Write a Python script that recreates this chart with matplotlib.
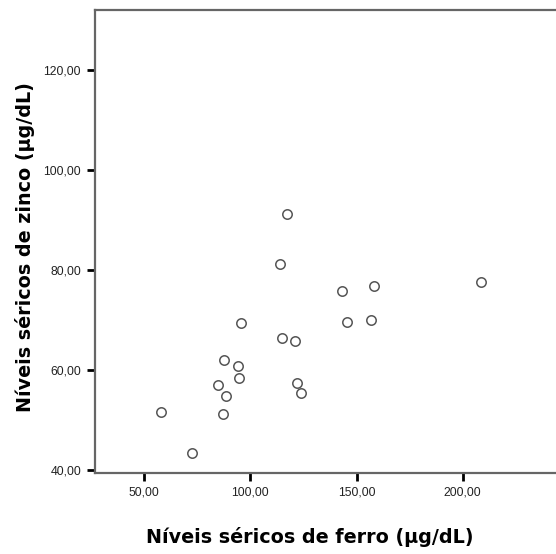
"""Scatter: serum iron vs serum zinc levels."""

import matplotlib

matplotlib.use("Agg")
import matplotlib.pyplot as plt
from matplotlib.ticker import FuncFormatter

# values
ferro = [57.7, 72.5, 84.7, 87.5, 86.9, 88.3, 94.0, 94.6, 95.4, 114.7,
         121.0, 121.8, 123.8, 143.1, 145.3, 156.7, 158.1, 208.7, 113.9, 117.3]
zinco = [51.5, 43.5, 56.9, 61.9, 51.2, 54.7, 60.8, 58.3, 69.3, 66.3,
         65.7, 57.3, 55.3, 75.7, 69.5, 69.9, 76.7, 77.6, 81.2, 91.1]
x_ticks = [50, 100, 150, 200]
y_ticks = [40, 60, 80, 100, 120]

W, H = 556, 554
fig = plt.figure(figsize=(W / 100, H / 100), dpi=100)
left, right, top, bottom = 95, 556 + 4, 10, 473
ax = fig.add_axes([left / W, 1 - bottom / H, (right - left) / W, (bottom - top) / H])

ax.scatter(ferro, zinco, s=46, facecolors="white", edgecolors="#555555",
           linewidths=1.1, zorder=3)

ax.set_xlim(26.8, 200 + (right - 462.7) / 2.124)
ax.set_ylim(39.4, 132.0)
ax.set_xticks(x_ticks)
ax.set_yticks(y_ticks)
fmt = FuncFormatter(lambda v, _: f"{v:.2f}".replace(".", ","))
ax.xaxis.set_major_formatter(fmt)
ax.yaxis.set_major_formatter(fmt)

tick_font = ["Liberation Sans Narrow", "Liberation Sans", "DejaVu Sans"]
for lab in ax.get_xticklabels() + ax.get_yticklabels():
    lab.set_family(tick_font)
    lab.set_fontsize(8.8)
    lab.set_color("#222222")
ax.tick_params(direction="out", length=6, width=2, color="black", pad=4)

for side in ("left", "bottom", "top"):
    ax.spines[side].set_color("#666666")
    ax.spines[side].set_linewidth(1.6)
ax.spines["right"].set_visible(False)

fig.text(310 / W, 1 - 537 / H, "Níveis séricos de ferro (µg/dL)",
         ha="center", va="center", fontsize=13.8, fontweight="bold")
fig.text(25 / W, 1 - 247 / H, "Níveis séricos de zinco (µg/dL)",
         ha="center", va="center", rotation=90, fontsize=13.8, fontweight="bold")

fig.savefig("out.png", dpi=100)
